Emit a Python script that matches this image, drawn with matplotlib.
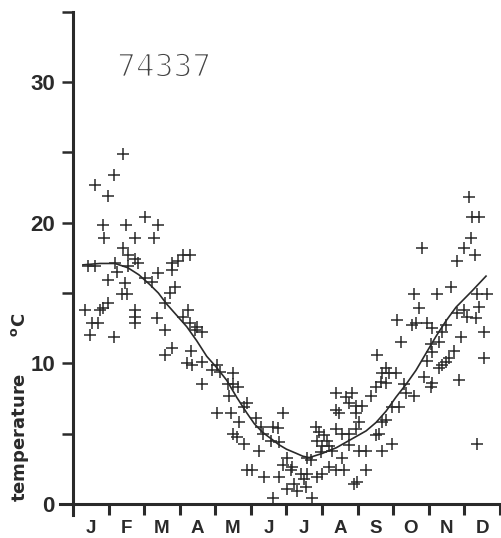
import matplotlib
matplotlib.use("Agg")
from matplotlib import pyplot as plt
from matplotlib import patheffects

# station label and month initials
station = "74337"
months = ["J", "F", "M", "A", "M", "J", "J", "A", "S", "O", "N", "D"]

# observed daily temperatures (x in months from 1 Jan, y in deg C)
obs_month = [0.34, 0.42, 0.48, 0.53, 0.62, 0.62, 0.70, 0.76, 0.84, 0.87,
             0.84, 0.98, 0.98, 0.98, 1.15, 1.15, 1.18, 1.23, 1.37, 1.40,
             1.40, 1.46, 1.49, 1.51, 1.54, 1.54, 1.74, 1.74, 1.82, 1.74,
             1.74, 1.74, 2.02, 2.02, 2.21, 2.27, 2.35, 2.38, 2.38, 2.58,
             2.58, 2.58, 2.77, 2.72, 2.77, 2.77, 2.86, 2.94, 3.08, 3.28,
             3.08, 3.22, 3.28, 3.33, 3.20, 3.34, 3.42, 3.48, 3.62, 3.62,
             3.62, 4.04, 4.12, 3.90, 4.04, 4.35, 4.40, 4.49, 4.49, 4.63,
             4.45, 4.68, 4.49, 4.60, 4.82, 4.82, 4.88, 4.88, 5.15, 5.29,
             5.33, 5.61, 5.75, 5.57, 5.80, 5.24, 5.89, 6.03, 5.89, 5.02,
             5.38, 5.80, 6.17, 6.42, 6.50, 6.59, 6.03, 6.22, 6.56, 6.31,
             5.61, 6.73, 6.59, 6.87, 7.01, 6.84, 6.92, 7.06, 6.87, 7.15,
             7.01, 7.21, 6.98, 7.40, 7.40, 7.40, 7.21, 7.40, 6.14, 6.70,
             7.29, 7.57, 7.63, 8.24, 7.99, 7.91, 7.68, 7.77, 7.96, 8.13,
             8.38, 7.85, 7.96, 7.49, 8.05, 7.96, 7.77, 7.57, 7.77, 8.05,
             8.24, 8.52, 8.69, 8.69, 8.97, 8.55, 8.80, 8.89, 8.69, 8.66,
             8.80, 8.52, 9.08, 9.31, 9.36, 9.59, 8.97, 9.17, 8.80, 8.61,
             9.11, 9.21, 9.53, 9.59, 9.73, 9.64, 9.81, 9.87, 9.96, 9.96,
             10.06, 10.09, 10.09, 10.09, 10.06, 10.23, 10.29, 10.29, 10.37, 10.48,
             10.48, 10.57, 10.62, 10.71, 10.79, 10.79, 10.85, 10.90, 10.99, 10.99,
             11.07, 11.13, 11.19, 11.21, 11.30, 11.33, 11.36, 11.36, 11.41, 11.41,
             11.55, 11.55, 11.64, 10.37]
obs_temp = [13.8, 16.9, 12.0, 12.9, 22.7, 16.9, 12.9, 13.8, 19.8, 18.9,
            13.9, 21.9, 15.9, 14.3, 23.4, 11.9, 17.1, 16.5, 14.9, 24.9,
            18.2, 15.7, 19.8, 14.9, 17.7, 16.9, 18.9, 17.4, 17.1, 13.8,
            13.3, 12.9, 20.4, 16.1, 15.8, 18.9, 13.2, 19.8, 16.4, 14.3,
            12.4, 10.6, 11.1, 15.0, 17.1, 16.6, 15.4, 17.3, 17.7, 17.7,
            13.3, 13.8, 12.9, 10.9, 10.0, 9.9, 12.4, 12.6, 12.2, 10.1,
            8.5, 9.9, 9.4, 9.5, 6.5, 8.5, 7.7, 9.3, 8.5, 8.3,
            6.5, 5.8, 5.0, 4.8, 6.9, 4.3, 2.4, 7.2, 6.1, 5.5,
            5.0, 5.5, 5.4, 4.5, 4.4, 3.8, 6.5, 3.3, 2.8, 2.4,
            1.9, 1.9, 2.6, 2.1, 1.8, 2.1, 1.1, 1.4, 1.2, 0.9,
            0.4, 0.4, 3.3, 1.9, 2.1, 5.5, 5.1, 4.9, 4.5, 4.5,
            4.1, 4.1, 3.7, 7.9, 6.7, 5.3, 2.6, 2.4, 2.4, 3.1,
            3.8, 3.3, 2.4, 2.4, 1.6, 1.4, 7.6, 7.2, 7.0, 7.0,
            7.7, 7.9, 6.5, 6.5, 5.8, 5.3, 5.0, 5.0, 4.2, 3.8,
            3.8, 4.9, 5.8, 3.8, 4.3, 10.6, 9.7, 9.3, 9.3, 8.7,
            8.6, 8.3, 9.3, 8.5, 7.9, 7.7, 6.9, 6.9, 6.0, 5.0,
            13.1, 11.5, 12.7, 14.9, 13.9, 12.9, 18.2, 9.0, 12.9, 10.2,
            11.4, 12.5, 10.8, 8.6, 8.3, 14.9, 11.5, 9.7, 12.2, 12.7,
            10.1, 10.4, 15.4, 10.9, 17.3, 13.6, 8.8, 11.9, 18.2, 13.8,
            13.3, 21.8, 18.9, 20.4, 17.7, 13.2, 14.9, 4.3, 20.4, 14.0,
            12.2, 10.4, 14.9, 9.9]

# fitted seasonal curve
fit_month = [0.28, 0.76, 1.18, 1.54, 1.85, 2.16, 2.40, 2.64, 2.92, 3.20,
             3.48, 3.76, 4.04, 4.32, 4.60, 4.88, 5.10, 5.33, 5.80, 6.00,
             6.28, 6.46, 6.64, 7.01, 7.20, 7.40, 7.68, 7.96, 8.24, 8.52,
             8.80, 9.08, 9.36, 9.64, 9.92, 10.20, 10.48, 10.77, 11.20, 11.61]
fit_temp = [17.0, 17.1, 17.1, 16.8, 16.3, 15.6, 15.0, 14.2, 13.4, 12.6,
            11.6, 10.5, 9.7, 8.8, 7.6, 6.5, 5.7, 5.1, 4.2, 3.9,
            3.6, 3.4, 3.3, 3.6, 3.8, 4.0, 4.4, 4.8, 5.2, 5.8,
            6.6, 7.6, 8.5, 9.5, 10.7, 11.9, 13.0, 14.0, 15.1, 16.2]

ink = "#2a2a2a"

fig = plt.figure(figsize=(5.02, 5.38), dpi=100)
# axes box chosen so that month 0 sits at x=73px and 0 deg at y=504px
ax = fig.add_axes([0.1191, 0.0422, 0.8767, 0.9362])

ax.plot(obs_month, obs_temp, linestyle="none", marker="+", markersize=8,
        markeredgewidth=1.1, color=ink)
ax.plot(fit_month, fit_temp, color=ink, linewidth=1.2)

ax.set_xlim(-0.37, 12)
ax.set_ylim(-0.8, 35)
for s in ["top", "right"]:
    ax.spines[s].set_visible(False)
ax.spines["left"].set_position(("data", 0))
ax.spines["bottom"].set_position(("data", 0))
for s in ["left", "bottom"]:
    ax.spines[s].set_linewidth(2.2)
    ax.spines[s].set_color(ink)

# y axis
ax.set_yticks(range(0, 36, 5))
ax.set_yticklabels(["0", "", "10", "", "20", "", "30", ""],
                   fontfamily="Liberation Sans", fontweight="bold", fontsize=16)
ax.tick_params(axis="y", direction="out", length=8, width=1.8, color=ink,
               pad=5, labelcolor=ink)

# x axis: ticks at month boundaries, letters in between
ax.set_xticks(range(1, 13))
ax.set_xticklabels([])
ax.tick_params(axis="x", which="major", direction="out", length=8, width=2.2,
               color=ink)
ax.set_xticks([m + 0.5 for m in range(12)], minor=True)
ax.set_xticklabels(months, minor=True, fontfamily="Liberation Sans",
                   fontweight="bold", fontsize=13.5, color=ink)
ax.tick_params(axis="x", which="minor", length=0, pad=11.5)

fig.text(0.04, 0.2435, r"temperature      $\mathbf{^{o}C}$", rotation=90,
         ha="center", va="center", fontfamily="DejaVu Sans",
         fontweight="bold", fontsize=13, color=ink)

ax.text(1.24, 30.4, station, fontfamily="DejaVu Sans Mono", fontsize=22.5,
        color="#444444", va="baseline", ha="left",
        path_effects=[patheffects.Stroke(linewidth=1.1, foreground="white")])

fig.savefig("out.png", dpi=100)
